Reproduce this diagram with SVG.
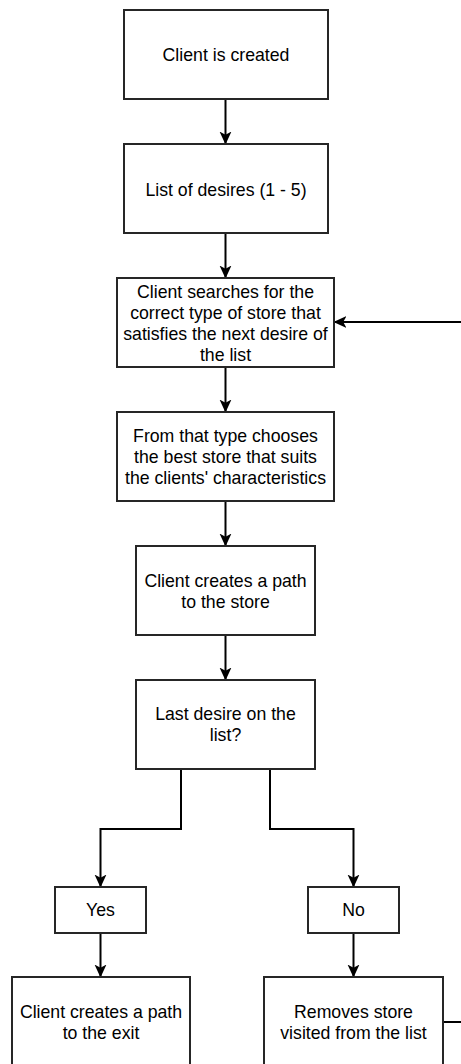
<svg xmlns="http://www.w3.org/2000/svg" width="461" height="1064" viewBox="0 0 461 1064">
<style>
.box{fill:#fff;stroke:#262626;stroke-width:2}
.t{font-family:"Liberation Sans",Arial,sans-serif;font-size:17.7px;fill:#000;text-anchor:middle}
.c{fill:none;stroke:#000;stroke-width:2}
</style>
<defs>
<marker id="ah" markerUnits="userSpaceOnUse" markerWidth="13" markerHeight="13" viewBox="0 0 12 12" refX="11.5" refY="6" orient="auto">
<path d="M0,0.5 L12,6 L0,11.5 L3,6 Z" fill="#000"/>
</marker>
</defs>
<rect width="461" height="1064" fill="#fff"/>
<g id="connectors">
<path class="c" d="M225.5,99 V144" marker-end="url(#ah)"/>
<path class="c" d="M225.5,233 V278" marker-end="url(#ah)"/>
<path class="c" d="M225.5,367 V412" marker-end="url(#ah)"/>
<path class="c" d="M225.5,501 V546" marker-end="url(#ah)"/>
<path class="c" d="M225.5,635 V680" marker-end="url(#ah)"/>
<path class="c" d="M181,769 V829 H100.5 V887" marker-end="url(#ah)"/>
<path class="c" d="M270,769 V829 H353.5 V887" marker-end="url(#ah)"/>
<path class="c" d="M100.5,933 V977" marker-end="url(#ah)"/>
<path class="c" d="M353.5,933 V977" marker-end="url(#ah)"/>
<path class="c" d="M443,1022 H478 V322 H334" marker-end="url(#ah)"/>
</g>
<g id="n1"><rect class="box" x="124" y="10" width="204" height="89"/><text class="t" x="226" y="61">Client is created</text></g>
<g id="n2"><rect class="box" x="124" y="144" width="204" height="89"/><text class="t" x="226" y="196">List of desires (1 - 5)</text></g>
<g id="n3"><rect class="box" x="117" y="278" width="217" height="89"/>
<text class="t" x="225.5"><tspan x="225.5" y="297.5">Client searches for the</tspan><tspan x="225.5" y="318.5">correct type of store that</tspan><tspan x="225.5" y="339.5">satisfies the next desire of</tspan><tspan x="225.5" y="360.5">the list</tspan></text></g>
<g id="n4"><rect class="box" x="117" y="412" width="217" height="89"/>
<text class="t" x="225.5"><tspan x="225.5" y="442">From that type chooses</tspan><tspan x="225.5" y="463">the best store that suits</tspan><tspan x="225.5" y="484">the clients' characteristics</tspan></text></g>
<g id="n5"><rect class="box" x="136" y="546" width="179" height="89"/>
<text class="t" x="225.5"><tspan x="225.5" y="587">Client creates a path</tspan><tspan x="225.5" y="608">to the store</tspan></text></g>
<g id="n6"><rect class="box" x="136" y="680" width="179" height="89"/>
<text class="t" x="225.5"><tspan x="225.5" y="720">Last desire on the</tspan><tspan x="225.5" y="741">list?</tspan></text></g>
<g id="yes"><rect class="box" x="55" y="887" width="91" height="46"/><text class="t" x="100.5" y="916">Yes</text></g>
<g id="no"><rect class="box" x="308" y="887" width="91" height="46"/><text class="t" x="353.5" y="916">No</text></g>
<g id="exit"><rect class="box" x="12" y="977" width="178" height="92"/>
<text class="t" x="101"><tspan x="101" y="1018">Client creates a path</tspan><tspan x="101" y="1039">to the exit</tspan></text></g>
<g id="remove"><rect class="box" x="264" y="977" width="179" height="92"/>
<text class="t" x="353.5"><tspan x="353.5" y="1018">Removes store</tspan><tspan x="353.5" y="1039">visited from the list</tspan></text></g>
</svg>
